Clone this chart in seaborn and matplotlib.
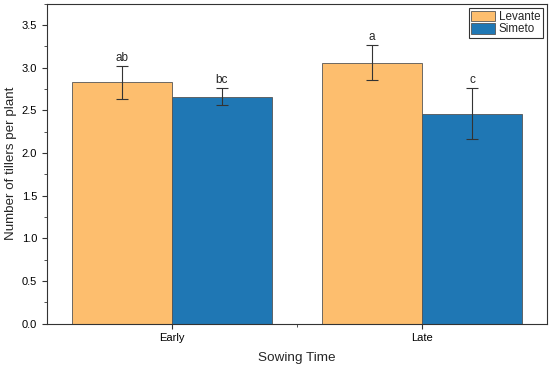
import matplotlib
matplotlib.use("Agg")
import matplotlib.pyplot as plt
import seaborn as sns
import pandas as pd
import numpy as np
from matplotlib.ticker import MultipleLocator

sowing = ["Early", "Late"]
varieties = ["Levante", "Simeto"]
levante = [2.83, 3.06]
simeto = [2.66, 2.46]
levante_err = [0.195, 0.205]
simeto_err = [0.10, 0.30]
levante_letters = ["ab", "a"]
simeto_letters = ["bc", "c"]

sns.set_theme(style="white")
plt.rcParams['font.family'] = ['Liberation Sans', 'DejaVu Sans']

df = pd.DataFrame({
    "Sowing Time": sowing * 2,
    "Variety": ["Levante"] * 2 + ["Simeto"] * 2,
    "value": levante + simeto,
})

fig, ax = plt.subplots(figsize=(5.5, 3.67), dpi=100)
fig.subplots_adjust(left=0.085, right=0.995, top=0.99, bottom=0.118)

palette = {"Levante": "#FDBE6E", "Simeto": "#1F77B4"}
sns.barplot(data=df, x="Sowing Time", y="value", hue="Variety", order=sowing,
            hue_order=varieties, palette=palette, errorbar=None, width=0.8,
            edgecolor="#555555", linewidth=0.6, saturation=1, ax=ax)

errs = [levante_err, simeto_err]
vals = [levante, simeto]
letters = [levante_letters, simeto_letters]
for cont, e, v, lt in zip(ax.containers, errs, vals, letters):
    xs = [p.get_x() + p.get_width() / 2 for p in cont.patches]
    ax.errorbar(xs, v, yerr=e, fmt="none", ecolor="#333333", elinewidth=0.8,
                capsize=4.5, capthick=0.8)
    for x, y, ee, t in zip(xs, v, e, lt):
        ax.text(x, y + ee + 0.02, t, ha="center", va="bottom", fontsize=8.5)

ax.set_xlim(-0.5, 1.5)
ax.set_ylim(0, 3.75)
ax.yaxis.set_major_locator(MultipleLocator(0.5))
ax.yaxis.set_minor_locator(MultipleLocator(0.25))
ax.set_xticks([0, 1])
ax.set_xticks([0.5], minor=True)
ax.yaxis.set_major_formatter(matplotlib.ticker.FormatStrFormatter("%.1f"))
ax.tick_params(axis="both", which="major", direction="out", length=3.5, width=0.8,
               colors="#333333", labelsize=8, labelcolor="black", left=True, bottom=True)
ax.tick_params(axis="both", which="minor", direction="out", length=2, width=0.6,
               colors="#333333", left=True, bottom=True)
for s in ax.spines.values():
    s.set_color("#333333")
    s.set_linewidth(0.8)

ax.set_xlabel("Sowing Time", fontsize=9.7, labelpad=6)
ax.set_ylabel("Number of tillers per plant", fontsize=9.6, labelpad=3)

leg = ax.legend(loc="upper right", fontsize=8.4, frameon=True, fancybox=False,
                edgecolor="#333333", framealpha=1, borderaxespad=0.4,
                handlelength=2.05, handleheight=1.05, borderpad=0.2,
                labelspacing=0.0, handletextpad=0.3)
leg.get_frame().set_linewidth(0.8)

fig.savefig("out.png", dpi=100)
